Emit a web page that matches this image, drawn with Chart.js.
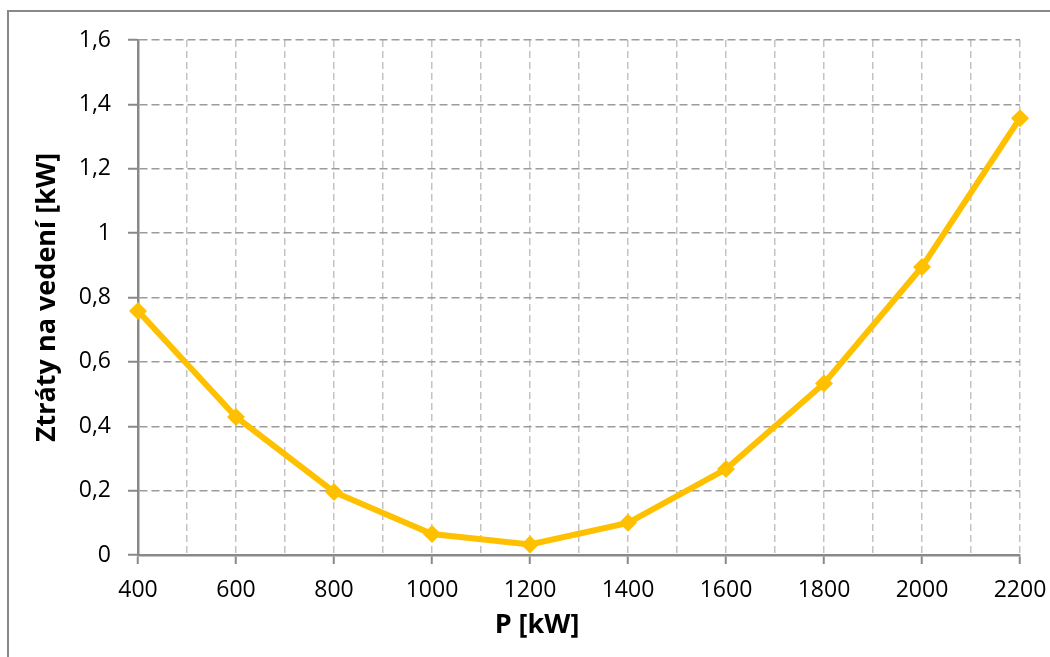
<!DOCTYPE html>
<html>
<head>
<meta charset="utf-8">
<script src="https://cdn.jsdelivr.net/npm/chart.js@4/dist/chart.umd.min.js"></script>
<style>
  html, body { margin: 0; padding: 0; background: #fff; }
  #wrap { width: 1050px; height: 657px; position: relative; }
</style>
</head>
<body>
<div id="wrap"><canvas id="c" width="1050" height="657"></canvas></div>
<script>
// Power on the line [kW] and corresponding line losses [kW]
const powerKW = [400, 600, 800, 1000, 1200, 1400, 1600, 1800, 2000, 2200];
const lossesKW = [0.758, 0.429, 0.196, 0.065, 0.033, 0.100, 0.267, 0.533, 0.895, 1.357];

const yTickLabels = ['0', '0,2', '0,4', '0,6', '0,8', '1', '1,2', '1,4', '1,6'];
const xTickLabels = ['400', '600', '800', '1000', '1200', '1400', '1600', '1800', '2000', '2200'];

const xTitle = 'P [kW]';
const yTitle = 'Ztráty na vedení [kW]';

const FONT = '"Open Sans", "Liberation Sans", sans-serif';
const AXIS_GREY = '#898989';

// Outer frame of the chart object and the horizontal axis title
const decorations = {
  id: 'decorations',
  beforeDraw(chart) {
    const ctx = chart.ctx;
    ctx.save();
    ctx.strokeStyle = AXIS_GREY;
    ctx.lineWidth = 2;
    ctx.beginPath();
    ctx.moveTo(8, 657);
    ctx.lineTo(8, 11);
    ctx.lineTo(1050, 11);
    ctx.stroke();
    ctx.restore();
  },
  afterDraw(chart) {
    const ctx = chart.ctx;
    ctx.save();
    ctx.fillStyle = '#000';
    ctx.font = 'bold 27px ' + FONT;
    ctx.textAlign = 'center';
    ctx.textBaseline = 'middle';
    ctx.fillText(xTitle, 537, 625);
    ctx.restore();
  }
};

new Chart(document.getElementById('c'), {
  type: 'line',
  data: {
    datasets: [{
      data: powerKW.map((p, i) => ({ x: p, y: lossesKW[i] })),
      borderColor: '#FFC000',
      backgroundColor: '#FFC000',
      borderWidth: 6,
      pointStyle: 'rectRot',
      pointRadius: 9,
      pointBorderWidth: 0,
      tension: 0,
      clip: false
    }]
  },
  options: {
    responsive: false,
    animation: false,
    layout: { padding: { left: 0, top: 40, right: 30, bottom: 0 } },
    plugins: { legend: { display: false }, tooltip: { enabled: false } },
    scales: {
      x: {
        type: 'linear',
        min: 400,
        max: 2200,
        afterFit(scale) {
          scale.height = 102;
          scale.paddingLeft = 0;
          scale.paddingRight = 0;
        },
        ticks: {
          stepSize: 100,
          autoSkip: false,
          maxRotation: 0,
          padding: 13,
          color: '#000',
          font: { family: FONT, size: 23 },
          callback(value) {
            const i = powerKW.indexOf(value);
            return i >= 0 ? xTickLabels[i] : '';
          }
        },
        grid: {
          color: '#c3c3c3',
          lineWidth: 1.5,
          tickLength: 9,
          tickWidth: 2,
          tickBorderDash: [],
          tickColor: (ctx) => (ctx.tick && powerKW.includes(ctx.tick.value)) ? AXIS_GREY : 'rgba(0,0,0,0)'
        },
        border: { color: AXIS_GREY, width: 2.5, dash: [7, 4] }
      },
      y: {
        min: 0,
        max: 1.6,
        afterFit(scale) {
          scale.width = 138;
          scale.paddingTop = 0;
          scale.paddingBottom = 0;
        },
        ticks: {
          stepSize: 0.2,
          padding: 17,
          color: '#000',
          font: { family: FONT, size: 23 },
          callback(value, index) { return yTickLabels[index]; }
        },
        grid: {
          color: '#9c9c9c',
          lineWidth: 1.5,
          tickLength: 10,
          tickWidth: 2,
          tickBorderDash: [],
          tickColor: AXIS_GREY
        },
        border: { color: AXIS_GREY, width: 2.5, dash: [8, 4] },
        title: {
          display: true,
          text: yTitle,
          color: '#000',
          font: { family: FONT, size: 27, weight: 'bold' },
          padding: { top: 31, bottom: 0 }
        }
      }
    }
  },
  plugins: [decorations]
});
</script>
</body>
</html>
